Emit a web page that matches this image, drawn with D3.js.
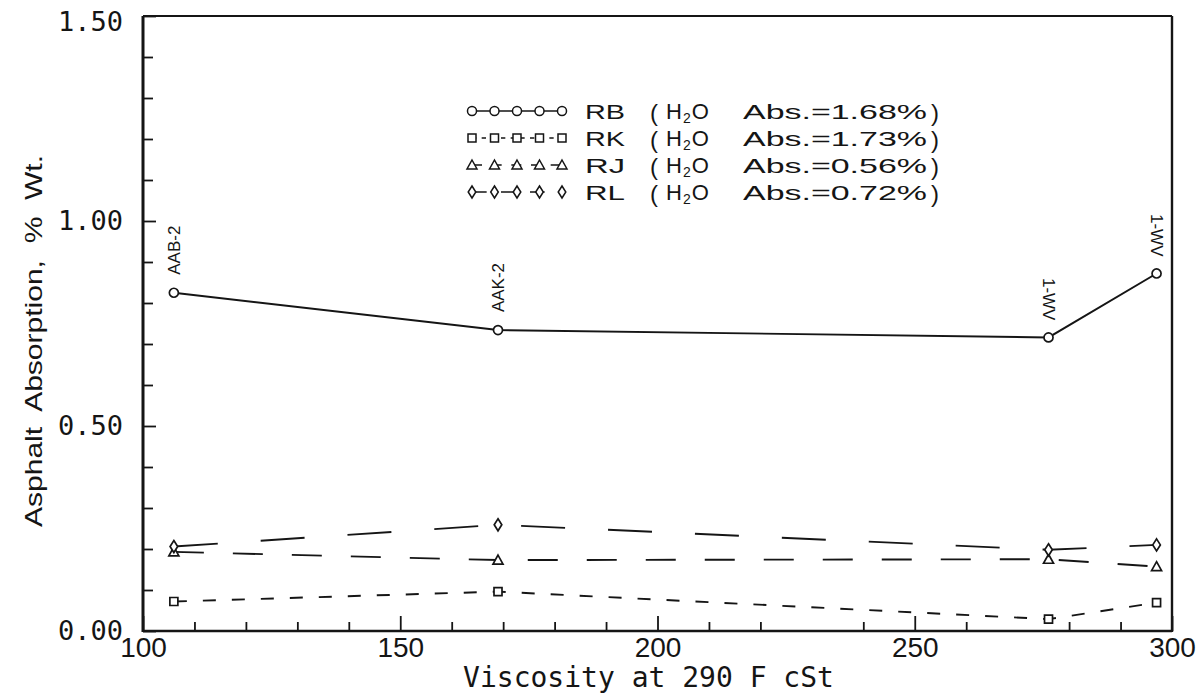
<!DOCTYPE html>
<html>
<head>
<meta charset="utf-8">
<script src="https://cdn.jsdelivr.net/npm/d3@7"></script>
<style>
  body { margin: 0; background: #fff; }
  svg { display: block; }
  .mono { font-family: "DejaVu Sans Mono", monospace; }
  .sans { font-family: "Liberation Sans", Arial, sans-serif; }
</style>
</head>
<body>
<div id="chart"></div>
<script>
// chart values
const viscosity = [106, 169, 276, 297];
const rbValues = [0.825, 0.734, 0.716, 0.872];
const rkValues = [0.072, 0.096, 0.029, 0.069];
const rjValues = [0.193, 0.173, 0.175, 0.157];
const rlValues = [0.206, 0.259, 0.198, 0.210];

const seriesNames = ['RB', 'RK', 'RJ', 'RL'];
const waterAbs = ['1.68', '1.73', '0.56', '0.72'];
const pointLabels = ['AAB-2', 'AAK-2', '1-WV', '1-WV'];

const xMajorTicks = [100, 150, 200, 250, 300];
const xMinorTicks = [110, 120, 130, 140, 160, 170, 180, 190, 210, 220, 240, 260, 280, 290];
const yMajorTicks = [0, 0.5, 1.0, 1.5];
const yMinorTicks = [0.1, 0.2, 0.3, 0.4, 0.6, 0.7, 0.8, 0.9, 1.1, 1.2, 1.3, 1.4];

const xTitle = 'Viscosity at 290 F cSt';
const yTitle = 'Asphalt  Absorption,  %  Wt.';

const W = 1198, H = 696;
const plot = { left: 143, right: 1172, top: 16, bottom: 631 };
const ink = '#151515';

const svg = d3.select('#chart').append('svg')
  .attr('width', W).attr('height', H);

const x = d3.scaleLinear().domain([100, 300]).range([plot.left, plot.right]);
const y = d3.scaleLinear().domain([0, 1.5]).range([plot.bottom, plot.top]);

// ---- ticks (drawn inward, like the plotter output) ----
const xAxisMajor = d3.axisBottom(x).tickValues(xMajorTicks)
  .tickSizeInner(-15).tickSizeOuter(0).tickPadding(6).tickFormat(d3.format('d'));
const xAxisMinor = d3.axisBottom(x).tickValues(xMinorTicks)
  .tickSizeInner(-9).tickSizeOuter(0).tickFormat('');
const yAxisMajor = d3.axisLeft(y).tickValues(yMajorTicks)
  .tickSizeInner(-13).tickSizeOuter(0).tickPadding(20).tickFormat(d3.format('.2f'));
const yAxisMinor = d3.axisLeft(y).tickValues(yMinorTicks)
  .tickSizeInner(-10).tickSizeOuter(0).tickFormat('');

function styleAxis(sel) {
  sel.select('.domain').remove();
  sel.selectAll('line').attr('stroke', ink).attr('stroke-width', 1.8);
}

svg.append('g').attr('transform', `translate(0,${plot.bottom})`).call(xAxisMinor).call(styleAxis);
const gx = svg.append('g').attr('transform', `translate(0,${plot.bottom})`).call(xAxisMajor).call(styleAxis);
gx.selectAll('text').attr('class', 'sans').attr('font-size', 28).attr('fill', ink);

svg.append('g').attr('transform', `translate(${plot.left},0)`).call(yAxisMinor).call(styleAxis);
const gy = svg.append('g').attr('transform', `translate(${plot.left},0)`).call(yAxisMajor).call(styleAxis);
gy.selectAll('text').attr('class', 'mono').attr('font-size', 27).attr('fill', ink);
gy.selectAll('.tick').filter(d => d === 1.5).select('text').attr('dy', '0.55em');

// ---- frame ----
const frame = svg.append('g').attr('stroke', ink).attr('fill', 'none');
frame.append('line').attr('x1', plot.left).attr('x2', plot.left)
  .attr('y1', plot.top).attr('y2', plot.bottom + 1).attr('stroke-width', 3);
frame.append('line').attr('x1', plot.left).attr('x2', plot.right)
  .attr('y1', plot.bottom).attr('y2', plot.bottom).attr('stroke-width', 2.6);
frame.append('line').attr('x1', plot.left).attr('x2', plot.right)
  .attr('y1', plot.top).attr('y2', plot.top).attr('stroke-width', 2);
frame.append('line').attr('x1', plot.right).attr('x2', plot.right)
  .attr('y1', plot.top).attr('y2', plot.bottom + 1).attr('stroke-width', 2.4);

// ---- axis titles ----
svg.append('text').attr('class', 'mono')
  .attr('x', (plot.left + plot.right) / 2 - 9).attr('y', 687)
  .attr('text-anchor', 'middle').attr('font-size', 28).attr('fill', ink)
  .text(xTitle);

svg.append('text').attr('class', 'sans')
  .attr('transform', `translate(42,341) rotate(-90)`)
  .attr('text-anchor', 'middle').attr('font-size', 24).attr('fill', ink)
  .attr('textLength', 372).attr('lengthAdjust', 'spacingAndGlyphs')
  .style('white-space', 'pre')
  .text(yTitle);

// ---- series ----
const series = [
  { name: seriesNames[0], values: rbValues, dash: null, marker: 'circle' },
  { name: seriesNames[1], values: rkValues, dash: '13,16', marker: 'square' },
  { name: seriesNames[2], values: rjValues, dash: '30,29', marker: 'triangle' },
  { name: seriesNames[3], values: rlValues, dash: '44,43', marker: 'diamond' }
];

function markerPath(type) {
  if (type === 'circle') return d3.symbol().type(d3.symbolCircle).size(64)();
  if (type === 'square') return 'M-4,-4H4V4H-4Z';
  if (type === 'triangle') return 'M0,-5L5,4H-5Z';
  return 'M0,-6L3.8,0L0,6L-3.8,0Z';
}

const line = d3.line().x(d => x(d[0])).y(d => y(d[1]));

const gSeries = svg.append('g');
series.forEach(s => {
  const pts = viscosity.map((v, i) => [v, s.values[i]]);
  gSeries.append('path')
    .datum(pts)
    .attr('d', line)
    .attr('fill', 'none')
    .attr('stroke', ink)
    .attr('stroke-width', 1.9)
    .attr('stroke-dasharray', s.dash);
});
series.forEach(s => {
  const pts = viscosity.map((v, i) => [v, s.values[i]]);
  gSeries.selectAll(null)
    .data(pts)
    .join('path')
    .attr('transform', d => `translate(${x(d[0])},${y(d[1])})`)
    .attr('d', markerPath(s.marker))
    .attr('fill', '#fff')
    .attr('stroke', ink)
    .attr('stroke-width', 1.7);
});

// point labels above the RB series
svg.append('g').selectAll('text')
  .data(viscosity.map((v, i) => ({ v, val: rbValues[i], label: pointLabels[i], up: i < 2 })))
  .join('text')
  .attr('class', 'sans')
  .attr('font-size', 17)
  .attr('fill', ink)
  .attr('transform', d => d.up
    ? `translate(${x(d.v) + 6},${y(d.val) - 18}) rotate(-90)`
    : `translate(${x(d.v) - 6},${y(d.val) - 17}) rotate(90)`)
  .attr('text-anchor', d => d.up ? 'start' : 'end')
  .text(d => d.label);

// ---- legend ----
const legend = svg.append('g');
const legX0 = 472, legStep = 22.5, legY0 = 111, legRow = 27;
series.forEach((s, i) => {
  const row = legend.append('g').attr('transform', `translate(0,${legY0 + i * legRow})`);
  row.append('line')
    .attr('x1', legX0).attr('x2', legX0 + 4 * legStep)
    .attr('stroke', ink).attr('stroke-width', 1.7)
    .attr('stroke-dasharray', s.dash ? s.dash.split(',').map(v => v / 3).join(',') : null);
  d3.range(5).forEach(k => {
    row.append('path')
      .attr('transform', `translate(${legX0 + k * legStep},0)`)
      .attr('d', markerPath(s.marker))
      .attr('fill', '#fff').attr('stroke', ink).attr('stroke-width', 1.5);
  });
  const txt = row.append('g').attr('class', 'sans').attr('fill', ink);
  txt.append('text').attr('x', 585).attr('y', 8).attr('font-size', 21)
    .attr('textLength', 40).attr('lengthAdjust', 'spacingAndGlyphs').text(s.name);
  txt.append('text').attr('x', 650).attr('y', 10).attr('font-size', 24).text('(');
  const h2o = txt.append('text').attr('x', 666).attr('y', 8).attr('font-size', 22);
  h2o.append('tspan').text('H');
  h2o.append('tspan').attr('font-size', 14).attr('dy', 4).attr('dx', 1).text('2');
  h2o.append('tspan').attr('dy', -4).attr('dx', 1).text('O');
  txt.append('text').attr('x', 743).attr('y', 8).attr('font-size', 21)
    .attr('textLength', 184).attr('lengthAdjust', 'spacingAndGlyphs')
    .text(`Abs.=${waterAbs[i]}%`);
  txt.append('text').attr('x', 931).attr('y', 10).attr('font-size', 24).text(')');
});
</script>
</body>
</html>
